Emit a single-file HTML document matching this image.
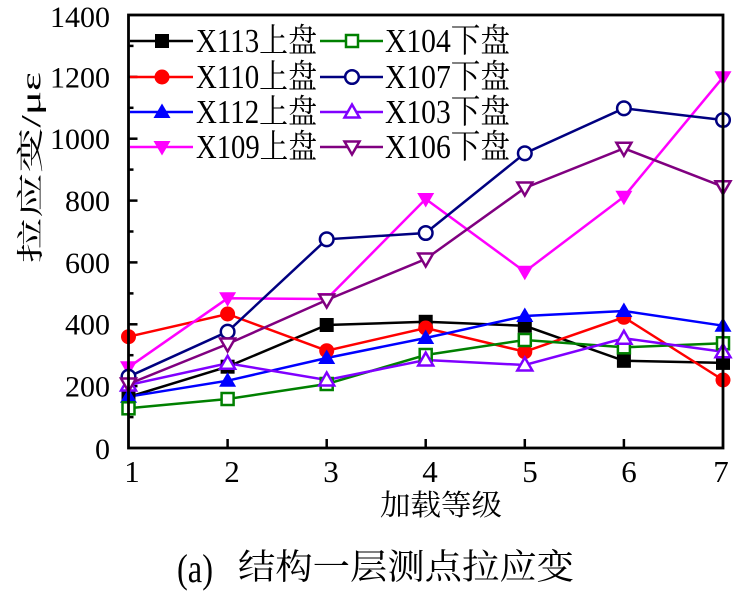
<!DOCTYPE html>
<html>
<head>
<meta charset="utf-8">
<style>
html,body{margin:0;padding:0;background:#fff;}
body{width:738px;height:599px;overflow:hidden;}
svg{display:block;}
text{font-family:"Liberation Serif","Noto Serif CJK SC",serif;fill:#000;}
.cjk{font-family:"Liberation Serif","Noto Serif CJK SC",serif;}
</style>
</head>
<body>
<svg width="738" height="599" viewBox="0 0 738 599" xmlns="http://www.w3.org/2000/svg">
<defs>
  <rect id="fsq" x="-7" y="-7" width="14" height="14"/>
  <circle id="fci" r="7.5"/>
  <polygon id="ftu" points="0,-8.5 -8.5,6 8.5,6"/>
  <polygon id="ftd" points="0,8.5 -8.5,-6 8.5,-6"/>
  <rect id="osq" x="-6" y="-6" width="12" height="12"/>
  <circle id="oci" r="6.8"/>
  <polygon id="otu" points="0,-7.5 -7.5,5.5 7.5,5.5"/>
  <polygon id="otd" points="0,7.5 -7.5,-5.5 7.5,-5.5"/>
</defs>

<!-- ticks -->
<g stroke="#000" stroke-width="2.5">
  <line x1="128.5" y1="386.1" x2="137.5" y2="386.1"/>
  <line x1="128.5" y1="324.3" x2="137.5" y2="324.3"/>
  <line x1="128.5" y1="262.4" x2="137.5" y2="262.4"/>
  <line x1="128.5" y1="200.6" x2="137.5" y2="200.6"/>
  <line x1="128.5" y1="138.7" x2="137.5" y2="138.7"/>
  <line x1="128.5" y1="76.9" x2="137.5" y2="76.9"/>
  <line x1="128.5" y1="417.1" x2="133.5" y2="417.1"/>
  <line x1="128.5" y1="355.2" x2="133.5" y2="355.2"/>
  <line x1="128.5" y1="293.4" x2="133.5" y2="293.4"/>
  <line x1="128.5" y1="231.5" x2="133.5" y2="231.5"/>
  <line x1="128.5" y1="169.6" x2="133.5" y2="169.6"/>
  <line x1="128.5" y1="107.8" x2="133.5" y2="107.8"/>
  <line x1="128.5" y1="45.9" x2="133.5" y2="45.9"/>
  <line x1="227.6" y1="448" x2="227.6" y2="439"/>
  <line x1="326.7" y1="448" x2="326.7" y2="439"/>
  <line x1="425.7" y1="448" x2="425.7" y2="439"/>
  <line x1="524.8" y1="448" x2="524.8" y2="439"/>
  <line x1="623.9" y1="448" x2="623.9" y2="439"/>
</g>

<!-- series lines -->
<g fill="none" stroke-width="2.5" stroke-linejoin="miter">
  <polyline stroke="#000000" points="128.5,397 227.6,366.7 326.7,325 425.7,321.8 524.8,325.8 623.9,360.8 723,362.9"/>
  <polyline stroke="#ff0000" points="128.5,336.7 227.6,314 326.7,350.7 425.7,328 524.8,351.7 623.9,317.3 723,380"/>
  <polyline stroke="#0000ff" points="128.5,396.7 227.6,380.7 326.7,358 425.7,338 524.8,316 623.9,311 723,325.7"/>
  <polyline stroke="#ff00ff" points="128.5,367.3 227.6,298.3 326.7,299 425.7,199 524.8,271.7 623.9,196.7 723,77.3"/>
  <polyline stroke="#008000" points="128.5,408.3 227.6,399 326.7,384 425.7,355 524.8,340 623.9,347.3 723,343.3"/>
  <polyline stroke="#000080" points="128.5,376.7 227.6,331.7 326.7,239.3 425.7,233 524.8,153.3 623.9,108.3 723,120"/>
  <polyline stroke="#8000ff" points="128.5,385 227.6,363.3 326.7,380 425.7,360 524.8,365 623.9,338.3 723,351.7"/>
  <polyline stroke="#800080" points="128.5,384 227.6,344 326.7,300 425.7,259 524.8,188 623.9,148.3 723,186.7"/>
</g>

<!-- markers -->
<g fill="#000">
  <use href="#fsq" x="128.5" y="397"/><use href="#fsq" x="227.6" y="366.7"/><use href="#fsq" x="326.7" y="325"/><use href="#fsq" x="425.7" y="321.8"/><use href="#fsq" x="524.8" y="325.8"/><use href="#fsq" x="623.9" y="360.8"/><use href="#fsq" x="723" y="362.9"/>
</g>
<g fill="#ff0000">
  <use href="#fci" x="128.5" y="336.7"/><use href="#fci" x="227.6" y="314"/><use href="#fci" x="326.7" y="350.7"/><use href="#fci" x="425.7" y="328"/><use href="#fci" x="524.8" y="351.7"/><use href="#fci" x="623.9" y="317.3"/><use href="#fci" x="723" y="380"/>
</g>
<g fill="#0000ff">
  <use href="#ftu" x="128.5" y="396.7"/><use href="#ftu" x="227.6" y="380.7"/><use href="#ftu" x="326.7" y="358"/><use href="#ftu" x="425.7" y="338"/><use href="#ftu" x="524.8" y="316"/><use href="#ftu" x="623.9" y="311"/><use href="#ftu" x="723" y="325.7"/>
</g>
<g fill="#ff00ff">
  <use href="#ftd" x="128.5" y="367.3"/><use href="#ftd" x="227.6" y="298.3"/><use href="#ftd" x="326.7" y="299"/><use href="#ftd" x="425.7" y="199"/><use href="#ftd" x="524.8" y="271.7"/><use href="#ftd" x="623.9" y="196.7"/><use href="#ftd" x="723" y="77.3"/>
</g>
<g fill="#fff" stroke="#008000" stroke-width="2.5">
  <use href="#osq" x="128.5" y="408.3"/><use href="#osq" x="227.6" y="399"/><use href="#osq" x="326.7" y="384"/><use href="#osq" x="425.7" y="355"/><use href="#osq" x="524.8" y="340"/><use href="#osq" x="623.9" y="347.3"/><use href="#osq" x="723" y="343.3"/>
</g>
<g fill="#fff" stroke="#000080" stroke-width="2.5">
  <use href="#oci" x="128.5" y="376.7"/><use href="#oci" x="227.6" y="331.7"/><use href="#oci" x="326.7" y="239.3"/><use href="#oci" x="425.7" y="233"/><use href="#oci" x="524.8" y="153.3"/><use href="#oci" x="623.9" y="108.3"/><use href="#oci" x="723" y="120"/>
</g>
<g fill="#fff" stroke="#8000ff" stroke-width="2.5">
  <use href="#otu" x="128.5" y="385"/><use href="#otu" x="227.6" y="363.3"/><use href="#otu" x="326.7" y="380"/><use href="#otu" x="425.7" y="360"/><use href="#otu" x="524.8" y="365"/><use href="#otu" x="623.9" y="338.3"/><use href="#otu" x="723" y="351.7"/>
</g>
<g fill="#fff" stroke="#800080" stroke-width="2.5">
  <use href="#otd" x="128.5" y="384"/><use href="#otd" x="227.6" y="344"/><use href="#otd" x="326.7" y="300"/><use href="#otd" x="425.7" y="259"/><use href="#otd" x="524.8" y="188"/><use href="#otd" x="623.9" y="148.3"/><use href="#otd" x="723" y="186.7"/>
</g>

<!-- frame -->
<rect x="128.5" y="15" width="594.5" height="433" fill="none" stroke="#000" stroke-width="2.8"/>

<!-- legend -->
<g stroke-width="2.5" fill="none">
  <line x1="130" y1="41" x2="193" y2="41" stroke="#000"/>
  <line x1="130" y1="77" x2="193" y2="77" stroke="#ff0000"/>
  <line x1="130" y1="112" x2="193" y2="112" stroke="#0000ff"/>
  <line x1="130" y1="147" x2="193" y2="147" stroke="#ff00ff"/>
  <line x1="320" y1="41" x2="383" y2="41" stroke="#008000"/>
  <line x1="320" y1="77" x2="383" y2="77" stroke="#000080"/>
  <line x1="320" y1="112" x2="383" y2="112" stroke="#8000ff"/>
  <line x1="320" y1="147" x2="383" y2="147" stroke="#800080"/>
</g>
<use href="#fsq" x="162" y="41" fill="#000"/>
<use href="#fci" x="162" y="77" fill="#ff0000"/>
<use href="#ftu" x="162" y="112" fill="#0000ff"/>
<use href="#ftd" x="162" y="147" fill="#ff00ff"/>
<use href="#osq" x="352" y="41" fill="#fff" stroke="#008000" stroke-width="2.5"/>
<use href="#oci" x="352" y="77" fill="#fff" stroke="#000080" stroke-width="2.5"/>
<use href="#otu" x="352" y="112" fill="#fff" stroke="#8000ff" stroke-width="2.5"/>
<use href="#otd" x="352" y="147" fill="#fff" stroke="#800080" stroke-width="2.5"/>

<g font-size="28">
  <text transform="translate(196,52) scale(1,1.2)" textLength="121" lengthAdjust="spacingAndGlyphs">X113上盘</text>
  <text transform="translate(196,88) scale(1,1.2)" textLength="121" lengthAdjust="spacingAndGlyphs">X110上盘</text>
  <text transform="translate(196,123) scale(1,1.2)" textLength="121" lengthAdjust="spacingAndGlyphs">X112上盘</text>
  <text transform="translate(196,158) scale(1,1.2)" textLength="121" lengthAdjust="spacingAndGlyphs">X109上盘</text>
  <text transform="translate(385,52) scale(1,1.2)" textLength="125" lengthAdjust="spacingAndGlyphs">X104下盘</text>
  <text transform="translate(385,88) scale(1,1.2)" textLength="125" lengthAdjust="spacingAndGlyphs">X107下盘</text>
  <text transform="translate(385,123) scale(1,1.2)" textLength="125" lengthAdjust="spacingAndGlyphs">X103下盘</text>
  <text transform="translate(385,158) scale(1,1.2)" textLength="125" lengthAdjust="spacingAndGlyphs">X106下盘</text>
</g>

<!-- y tick labels -->
<g font-size="30" text-anchor="end">
  <text x="110" y="459">0</text>
  <text x="110" y="396.5">200</text>
  <text x="110" y="334.7">400</text>
  <text x="110" y="272.8">600</text>
  <text x="110" y="211">800</text>
  <text x="110" y="149.1">1000</text>
  <text x="110" y="87.3">1200</text>
  <text x="110" y="27">1400</text>
</g>

<!-- x tick labels -->
<g font-size="31" text-anchor="middle">
  <text x="132" y="482">1</text>
  <text x="232" y="482">2</text>
  <text x="331" y="482">3</text>
  <text x="430" y="482">4</text>
  <text x="530" y="482">5</text>
  <text x="629" y="482">6</text>
  <text x="721" y="482">7</text>
</g>

<!-- axis titles -->
<text x="441" y="515" font-size="29" text-anchor="middle" textLength="122" lengthAdjust="spacingAndGlyphs">加载等级</text>
<text transform="translate(40,167.5) rotate(-90)" font-size="27" text-anchor="middle" textLength="191" lengthAdjust="spacingAndGlyphs">拉应变/με</text>

<!-- caption -->
<text x="177" y="582" font-size="40" textLength="36" lengthAdjust="spacingAndGlyphs">(a)</text>
<text x="238" y="579" font-size="35" textLength="336" lengthAdjust="spacingAndGlyphs">结构一层测点拉应变</text>
</svg>
</body>
</html>
